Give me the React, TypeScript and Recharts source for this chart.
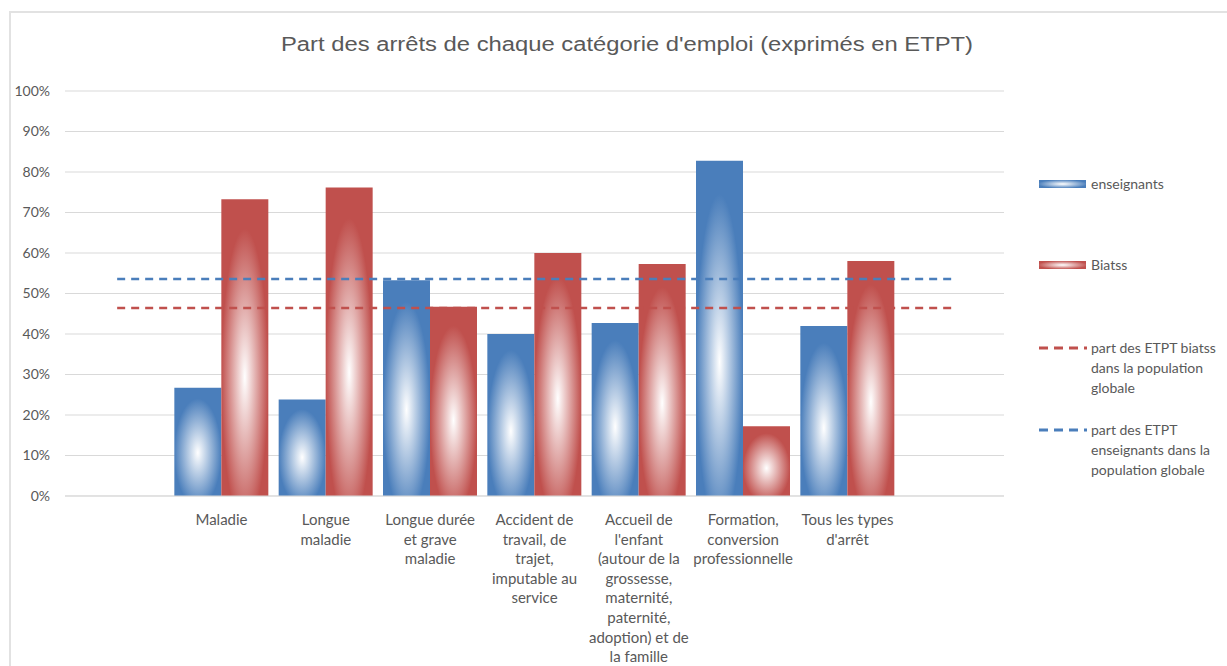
import { Bar, CartesianGrid, ComposedChart, Line, XAxis, YAxis } from "recharts";

// first and last categories are empty, as in the original Excel chart
const categories = ["", "Maladie", "Longue maladie", "Longue durée et grave maladie", "Accident de travail", "Accueil de l'enfant", "Formation", "Tous les types d'arrêt", " "];

const categoryLines: string[][] = [
  [],
  ["Maladie"],
  ["Longue", "maladie"],
  ["Longue durée", "et grave", "maladie"],
  ["Accident de", "travail, de", "trajet,", "imputable au", "service"],
  ["Accueil de", "l'enfant", "(autour de la", "grossesse,", "maternité,", "paternité,", "adoption) et de", "la famille"],
  ["Formation,", "conversion", "professionnelle"],
  ["Tous les types", "d'arrêt"],
  [],
];

const enseignants = [null, 26.7, 23.8, 53.3, 40.0, 42.7, 82.8, 42.0, null];
const biatss = [null, 73.3, 76.2, 46.7, 60.0, 57.3, 17.2, 58.0, null];
const partBiatss = [46.4, 46.4, 46.4, 46.4, 46.4, 46.4, 46.4, 46.4, 46.4];
const partEnseignants = [53.6, 53.6, 53.6, 53.6, 53.6, 53.6, 53.6, 53.6, 53.6];

const yTicks = [0, 10, 20, 30, 40, 50, 60, 70, 80, 90, 100];

const BLUE = "#4a7ebb";
const RED = "#c0504d";
const TEXT = "#595959";
const FONT = "Lato, 'Open Sans', sans-serif";

const data = categories.map((name, i) => ({
  name,
  idx: i,
  enseignants: enseignants[i],
  biatss: biatss[i],
  partBiatss: partBiatss[i],
  partEnseignants: partEnseignants[i],
}));

function CategoryTick(props: any) {
  const { x, y, payload } = props;
  const lines = categoryLines[payload.value] || [];
  return (
    <text x={x} y={y + 29} textAnchor="middle" fill={TEXT} fontSize={15} fontFamily={FONT}>
      {lines.map((l, i) => (
        <tspan key={i} x={x} dy={i === 0 ? 0 : 19.6}>
          {l}
        </tspan>
      ))}
    </text>
  );
}

function LegendBox() {
  const label: React.CSSProperties = {
    position: "absolute",
    left: 52,
    fontFamily: FONT,
    fontSize: 14,
    lineHeight: "20px",
    color: TEXT,
    whiteSpace: "nowrap",
  };
  const swatch = (c: string, top: number) => (
    <div
      style={{
        position: "absolute",
        left: 0,
        top,
        width: 47,
        height: 8,
        background: `radial-gradient(ellipse at center, #ffffff 0%, ${c} 75%)`,
      }}
    />
  );
  const dash = (c: string, top: number) => (
    <svg style={{ position: "absolute", left: 0, top }} width={48} height={4}>
      <line x1={0} y1={2} x2={48} y2={2} stroke={c} strokeWidth={3} strokeDasharray="9 6" />
    </svg>
  );
  return (
    <div style={{ position: "absolute", left: 1039, top: 170, width: 190, height: 320 }}>
      {swatch(BLUE, 10)}
      <div style={{ ...label, top: 4 }}>enseignants</div>
      {swatch(RED, 91)}
      <div style={{ ...label, top: 85 }}>Biatss</div>
      {dash(RED, 176)}
      <div style={{ ...label, top: 168 }}>
        part des ETPT biatss
        <br />
        dans la population
        <br />
        globale
      </div>
      {dash(BLUE, 258)}
      <div style={{ ...label, top: 250 }}>
        part des ETPT
        <br />
        enseignants dans la
        <br />
        population globale
      </div>
    </div>
  );
}

export default function App() {
  return (
    <div style={{ position: "fixed", left: 0, top: 0, width: 1227, height: 666, overflow: "hidden", background: "#fff" }}>
      <div
        style={{
          position: "absolute",
          left: 9,
          top: 11,
          width: 1240,
          height: 700,
          borderTop: "2px solid #e2e2e2",
          borderLeft: "2px solid #e2e2e2",
        }}
      />
      <svg style={{ position: "absolute", left: 0, top: 0 }} width={1227} height={70}>
        <text
          x={627}
          y={51}
          textAnchor="middle"
          fill={TEXT}
          fontSize={20}
          fontFamily="'Liberation Sans', Arial, sans-serif"
          textLength={692}
          lengthAdjust="spacingAndGlyphs"
        >
          Part des arrêts de chaque catégorie d'emploi (exprimés en ETPT)
        </text>
      </svg>
      <div style={{ position: "absolute", left: 0, top: 0 }}>
        <ComposedChart
          width={1227}
          height={666}
          data={data}
          margin={{ top: 91, right: 223, bottom: 140, left: 0 }}
          barCategoryGap={5}
          barGap={0}
        >
          <defs>
            <radialGradient id="gBlue" cx="0.5" cy="0.6" r="0.5">
              <stop offset="0%" stopColor="#ffffff" />
              <stop offset="100%" stopColor={BLUE} />
            </radialGradient>
            <radialGradient id="gRed" cx="0.5" cy="0.6" r="0.5">
              <stop offset="0%" stopColor="#ffffff" />
              <stop offset="100%" stopColor={RED} />
            </radialGradient>
          </defs>
          <CartesianGrid vertical={false} stroke="#d9d9d9" />
          <XAxis
            dataKey="idx"
            type="category"
            axisLine={{ stroke: "#d9d9d9" }}
            tickLine={false}
            tickSize={0}
            tickMargin={0}
            height={30}
            interval={0}
            tick={<CategoryTick />}
          />
          <YAxis
            domain={[0, 100]}
            ticks={yTicks}
            interval={0}
            axisLine={false}
            tickLine={false}
            tickSize={0}
            tickMargin={15}
            width={65}
            tickFormatter={(v: number) => `${v}%`}
            tick={{ fill: TEXT, fontSize: 14, fontFamily: FONT }}
          />
          <Bar dataKey="enseignants" fill="url(#gBlue)" isAnimationActive={false} />
          <Bar dataKey="biatss" fill="url(#gRed)" isAnimationActive={false} />
          <Line
            dataKey="partBiatss"
            stroke={RED}
            strokeWidth={2.5}
            strokeDasharray="8 6"
            dot={false}
            activeDot={false}
            isAnimationActive={false}
          />
          <Line
            dataKey="partEnseignants"
            stroke={BLUE}
            strokeWidth={2.5}
            strokeDasharray="8 6"
            dot={false}
            activeDot={false}
            isAnimationActive={false}
          />
        </ComposedChart>
      </div>
      <LegendBox />
    </div>
  );
}
